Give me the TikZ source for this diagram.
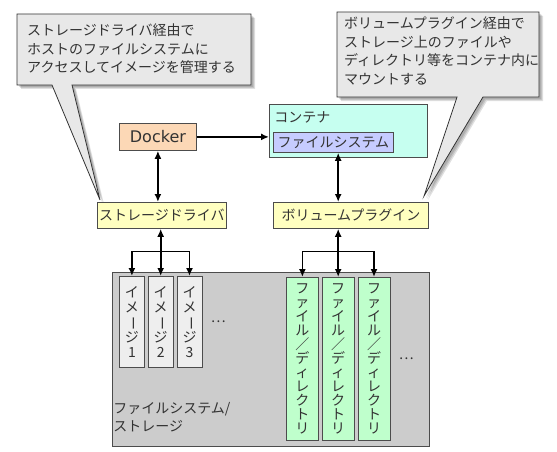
\documentclass[tikz,border=0pt]{standalone}
\usepackage{fontspec}
\usepackage{tikz}
\usetikzlibrary{arrows.meta,positioning,calc}
\newfontfamily\jpfont{Noto Sans CJK JP}
\newfontfamily\latinfont{DejaVu Sans}
\definecolor{dockfill}{HTML}{FCD8B6}
\definecolor{contfill}{HTML}{C6FFF0}
\definecolor{fsfill}{HTML}{C6CCFF}
\definecolor{yelfill}{HTML}{FFFFC0}
\definecolor{imgfill}{HTML}{EEEEEE}
\definecolor{filefill}{HTML}{BFFFCC}
\definecolor{notefill}{HTML}{E8E8E8}
\newcommand{\vbar}{\rotatebox[origin=c]{-90}{ー}}
\tikzset{
  box/.style={draw=black!70, line width=0.8pt, inner sep=0pt, text=black!80,
    font=\jpfont\fontsize{14}{17}\selectfont},
  tate/.style={box, align=center, font=\jpfont\fontsize{14}{14}\selectfont},
  arr/.style={line width=1.6pt, -{Latex[length=8pt,width=7pt]}},
  dblarr/.style={line width=1.6pt, {Latex[length=8pt,width=7pt]}-{Latex[length=8pt,width=7pt]}},
  note/.style={inner sep=0pt, align=left, text=black!80,
    font=\jpfont\fontsize{14}{18.5}\selectfont}
}
\begin{document}
\begin{tikzpicture}[x=1pt,y=-1pt]
\useasboundingbox (0,0) rectangle (557,452);
% callouts
\foreach \s in {2,3,4}
  \fill[black, opacity=0.12, shift={(\s,\s)}] (17,14) -- (251,14) -- (251,85) -- (72,85) -- (100,200) -- (52,85) -- (17,85) -- cycle;
\draw[draw=black!80, fill=notefill, line width=0.8pt] (17,14) -- (251,14) -- (251,85) -- (72,85) -- (100,200) -- (52,85) -- (17,85) -- cycle;
\foreach \s in {2,3,4}
  \fill[black, opacity=0.12, shift={(\s,\s)}] (337,12) -- (539,12) -- (539,97) -- (483,97) -- (424,196) -- (457,97) -- (337,97) -- cycle;
\draw[draw=black!80, fill=notefill, line width=0.8pt] (337,12) -- (539,12) -- (539,97) -- (483,97) -- (424,196) -- (457,97) -- (337,97) -- cycle;
\node[note, anchor=north west] (note1) at (27,24) {ストレージドライバ経由で\\ホストのファイルシステムに\\アクセスしてイメージを管理する};
\node[note, anchor=north west] (note2) at (344,17) {ボリュームプラグイン経由で\\ストレージ上のファイルや\\ディレクトリ等をコンテナ内に\\マウントする};
% upper boxes
\node[box, fill=dockfill, minimum width=77, minimum height=27, anchor=north west,
  font=\latinfont\fontsize{16}{18}\selectfont] (dock) at (119,123) {Docker};
\node[box, fill=contfill, minimum width=158, minimum height=53, anchor=north west] (cont) at (269,104) {};
\node[box, draw=none, anchor=west] (contlbl) at (274,117) {コンテナ};
\node[box, fill=fsfill, minimum width=120, minimum height=20, anchor=north west] (fs) at (273,132) {ファイルシステム};
\node[box, fill=yelfill, minimum width=129, minimum height=26, anchor=north west] (drv) at (97,202) {ストレージドライバ};
\node[box, fill=yelfill, minimum width=155, minimum height=26, anchor=north west] (vol) at (273,202) {ボリュームプラグイン};
% storage
\node[box, fill=black!20, line width=1.2pt, minimum width=317, minimum height=174, anchor=north west] (store) at (112,272) {};
\node[box, draw=none, align=left, anchor=north west, font=\jpfont\fontsize{14}{18}\selectfont] (storelbl) at (113,402) {ファイルシステム/\\ストレージ};
\node[tate, fill=imgfill, minimum width=25, minimum height=91, anchor=north west,
  font=\jpfont\fontsize{14}{14.5}\selectfont] (img1) at (119,276) {イ\\メ\\\vbar\\ジ\\1};
\node[tate, fill=imgfill, minimum width=25, minimum height=91, right=3pt of img1,
  font=\jpfont\fontsize{14}{14.5}\selectfont] (img2) {イ\\メ\\\vbar\\ジ\\2};
\node[tate, fill=imgfill, minimum width=25, minimum height=91, right=3pt of img2,
  font=\jpfont\fontsize{14}{14.5}\selectfont] (img3) {イ\\メ\\\vbar\\ジ\\3};
\node[box, draw=none, right=8pt of img3] (imgdots) {…};
\node[tate, fill=filefill, minimum width=32, minimum height=163, anchor=north west] (fil1) at (286,277) {フ\\ァ\\イ\\ル\\／\\デ\\ィ\\レ\\ク\\ト\\リ};
\node[tate, fill=filefill, minimum width=32, minimum height=163, right=3pt of fil1] (fil2) {フ\\ァ\\イ\\ル\\／\\デ\\ィ\\レ\\ク\\ト\\リ};
\node[tate, fill=filefill, minimum width=32, minimum height=163, right=3pt of fil2] (fil3) {フ\\ァ\\イ\\ル\\／\\デ\\ィ\\レ\\ク\\ト\\リ};
\node[box, draw=none, right=8pt of fil3] (fildots) {…};
% connectors
\draw[arr] (dock.east) -- (cont.west |- dock.east);
\draw[dblarr] (dock.south) -- (dock.south |- drv.north);
\draw[dblarr] (fil2.north |- fs.south) -- (fil2.north |- vol.north);
\coordinate (drvfork) at ($(img2.north |- drv.south)!0.48!(img2.north)$);
\draw[dblarr] (img2.north |- drv.south) -- (img2.north);
\draw[arr] (drvfork) -| (img1.north);
\draw[arr] (drvfork) -| (img3.north);
\coordinate (volfork) at ($(fil2.north |- vol.south)!0.47!(fil2.north)$);
\draw[dblarr] (fil2.north |- vol.south) -- (fil2.north);
\draw[arr] (volfork) -| (fil1.north);
\draw[arr] (volfork) -| (fil3.north);
\end{tikzpicture}
\end{document}
